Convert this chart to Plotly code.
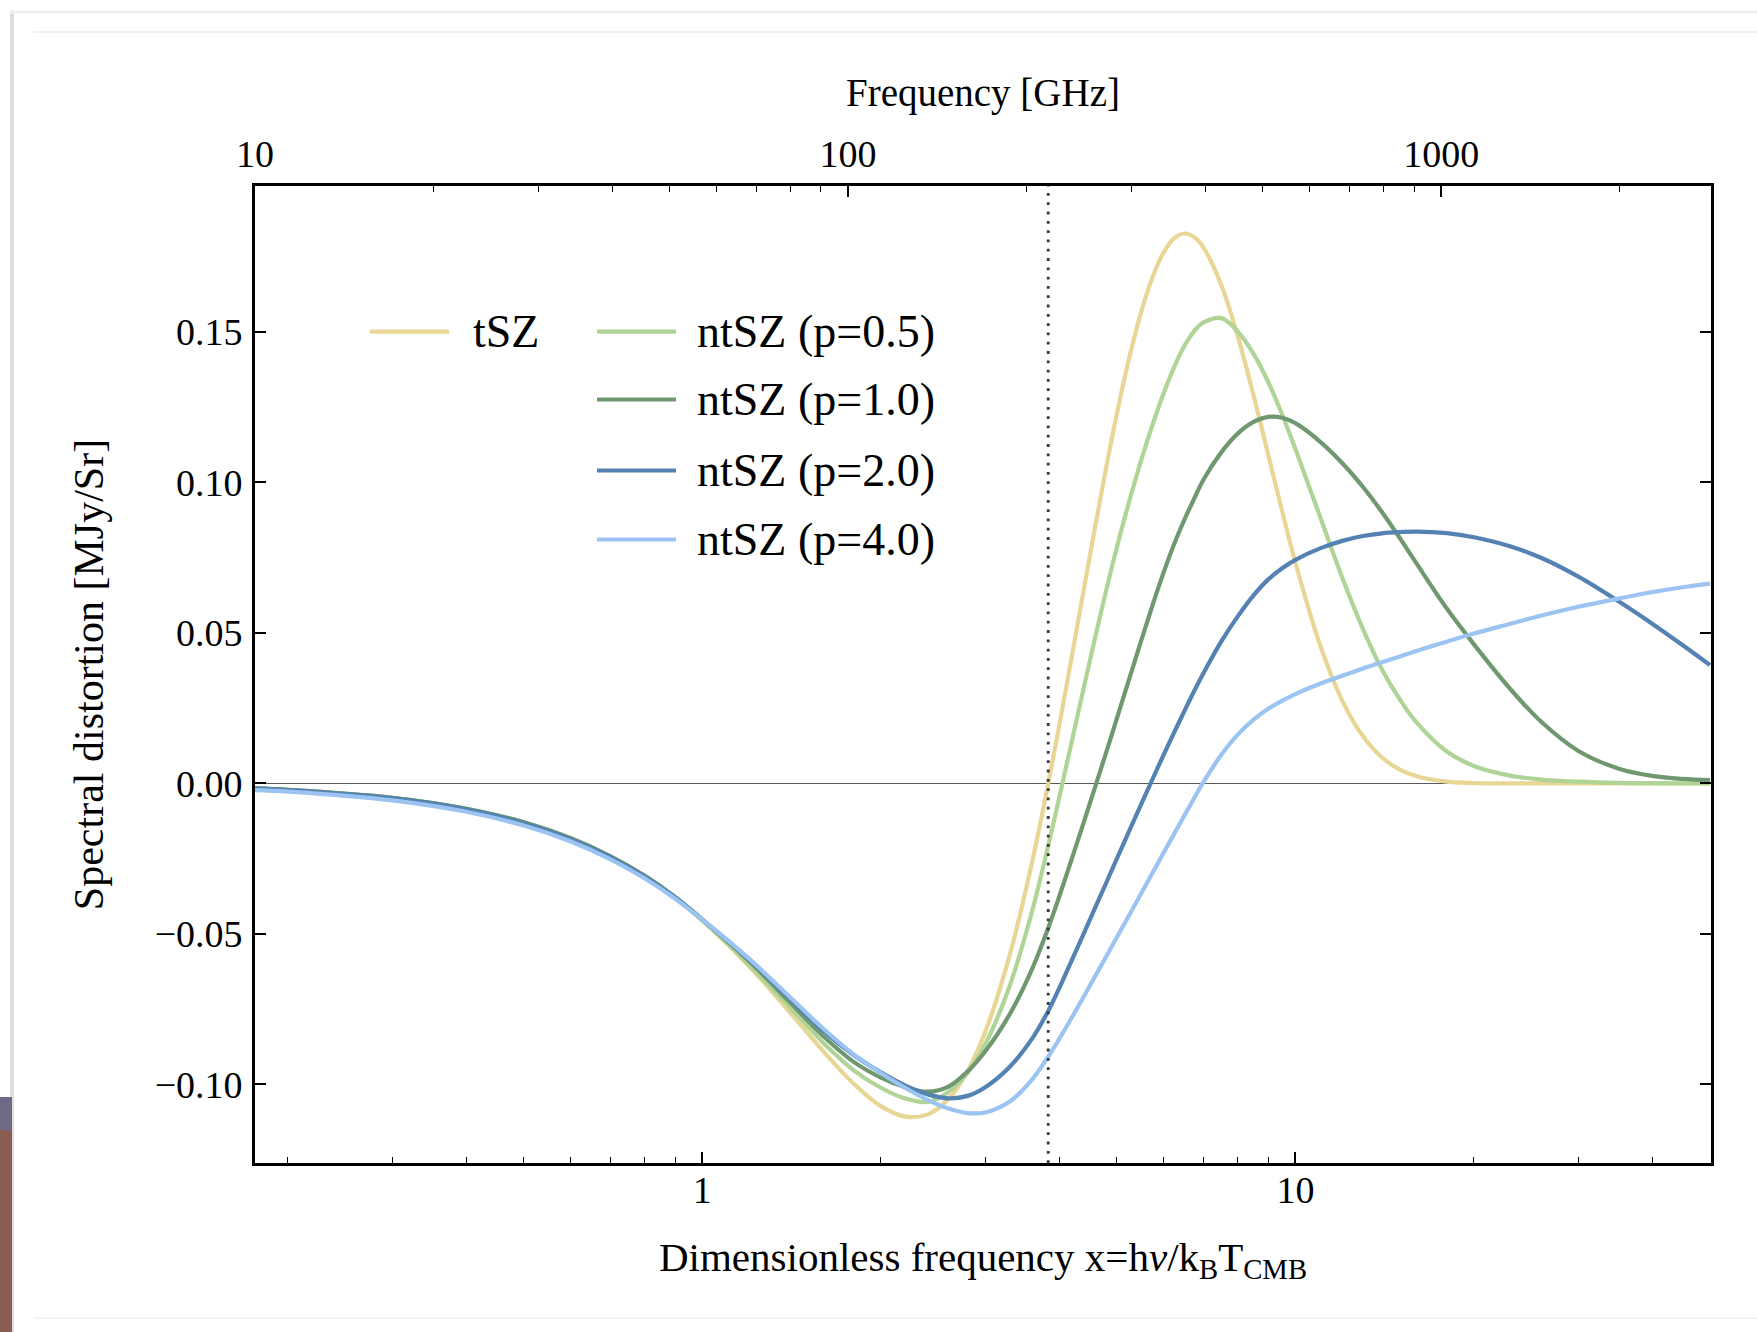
import math
import plotly.graph_objects as go

# ---------------- data ----------------
x_dimless = [0.176, 0.2, 0.3, 0.4, 0.5, 0.6, 0.7, 0.8, 0.9, 1.0,
             1.2, 1.4, 1.6, 1.8, 2.0, 2.2, 2.4, 2.6, 2.8, 3.0,
             3.3, 3.6, 3.83, 4.0, 4.2, 4.4, 4.6, 4.8, 5.0, 5.25,
             5.5, 5.75, 6.0, 6.25, 6.5, 6.75, 7.0, 7.5, 8.0, 8.5,
             9.0, 9.5, 10, 11, 12, 13, 14, 15, 16, 18,
             20, 23, 26, 30, 35, 40, 45, 50]

tsz = [-0.00166, -0.00214, -0.00478, -0.00844, -0.01292, -0.01826, -0.02432, -0.03098, -0.0381, -0.04554,
       -0.06083, -0.07569, -0.08901, -0.09978, -0.1072, -0.1107, -0.10995, -0.10486, -0.0956, -0.0825,
       -0.05688, -0.02584, 0.0, 0.01956, 0.04248, 0.06473, 0.08579, 0.10526, 0.1228, 0.14167,
       0.15695, 0.16854, 0.17654, 0.18117, 0.18272, 0.18153, 0.17803, 0.16559, 0.14837, 0.12892,
       0.10914, 0.09037, 0.07339, 0.04611, 0.02746, 0.01565, 0.00861, 0.00459, 0.00238, 0.0006,
       0.00014, 0.00002, 0.0, 0.0, 0.0, 0.0, 0.0, 0.0]

ntsz_p05 = [-0.00166, -0.00214, -0.00478, -0.00844, -0.0129, -0.0182, -0.0242, -0.0308, -0.0379, -0.0454,
            -0.0603, -0.0741, -0.0862, -0.0953, -0.1011, -0.1047, -0.1058, -0.1025, -0.0962, -0.0866,
            -0.0671, -0.0422, -0.0207, -0.0044, 0.0142, 0.0321, 0.0489, 0.0644, 0.0785, 0.0940,
            0.1077, 0.1195, 0.1298, 0.1385, 0.1454, 0.1503, 0.1532, 0.1546, 0.1501, 0.1427,
            0.1333, 0.1225, 0.1111, 0.0887, 0.0683, 0.0513, 0.0378, 0.0279, 0.0203, 0.0106,
            0.0058, 0.0026, 0.0013, 0.0006, 0.0002, 0.0001, 0.0, 0.0]

ntsz_p10 = [-0.00166, -0.00214, -0.00478, -0.00844, -0.0129, -0.0182, -0.0242, -0.0307, -0.0378, -0.0452,
            -0.0591, -0.0724, -0.0840, -0.0925, -0.0977, -0.1009, -0.1024, -0.1007, -0.0957, -0.0890,
            -0.0766, -0.0615, -0.0480, -0.0374, -0.0249, -0.0127, -0.0009, 0.0105, 0.0216, 0.0350,
            0.0477, 0.0596, 0.0703, 0.0797, 0.0877, 0.0946, 0.1010, 0.1100, 0.1163, 0.1201,
            0.1218, 0.1215, 0.1197, 0.1136, 0.1064, 0.0985, 0.0901, 0.0815, 0.0731, 0.0581,
            0.0462, 0.0315, 0.0204, 0.0108, 0.0050, 0.0025, 0.0015, 0.0011]

ntsz_p20 = [-0.0017, -0.0022, -0.0049, -0.0086, -0.0132, -0.0185, -0.0245, -0.0310, -0.0379, -0.0452,
            -0.0586, -0.0713, -0.0822, -0.0902, -0.0960, -0.1004, -0.1033, -0.1046, -0.1038, -0.1009,
            -0.0941, -0.0847, -0.0756, -0.0679, -0.0586, -0.0497, -0.0411, -0.0329, -0.0250, -0.0156,
            -0.0067, 0.0017, 0.0097, 0.0171, 0.0241, 0.0307, 0.0367, 0.0472, 0.0556, 0.0625,
            0.0678, 0.0715, 0.0743, 0.0781, 0.0806, 0.0822, 0.0831, 0.0835, 0.0837, 0.0832,
            0.0818, 0.0788, 0.0749, 0.0687, 0.0606, 0.0530, 0.0459, 0.0393]

ntsz_p40 = [-0.0022, -0.0027, -0.0056, -0.0094, -0.0140, -0.0193, -0.0252, -0.0316, -0.0383, -0.0452,
            -0.0583, -0.0707, -0.0815, -0.0900, -0.0962, -0.1012, -0.1052, -0.1080, -0.1095, -0.1093,
            -0.1057, -0.0983, -0.0908, -0.0848, -0.0777, -0.0707, -0.0639, -0.0574, -0.0511, -0.0436,
            -0.0364, -0.0295, -0.0229, -0.0166, -0.0106, -0.0049, 0.0005, 0.0095, 0.0163, 0.0212,
            0.0248, 0.0275, 0.0297, 0.0331, 0.0358, 0.0382, 0.0403, 0.0422, 0.0440, 0.0471,
            0.0498, 0.0530, 0.0558, 0.0587, 0.0614, 0.0636, 0.0652, 0.0664]

series_names = ["tSZ", "ntSZ (p=0.5)", "ntSZ (p=1.0)", "ntSZ (p=2.0)", "ntSZ (p=4.0)"]
series_values = [tsz, ntsz_p05, ntsz_p10, ntsz_p20, ntsz_p40]
series_colors = ["#E7D694", "#B0D396", "#6F9870", "#5482B2", "#9BC4F2"]

x_ticks = [1, 10]
x_minor_ticks = [0.2, 0.3, 0.4, 0.5, 0.6, 0.7, 0.8, 0.9, 2, 3, 4, 5, 6, 7, 8, 9, 20, 30, 40]
freq_ticks = [10, 100, 1000]
freq_minor_ticks = [20, 30, 40, 50, 60, 70, 80, 90, 200, 300, 400, 500, 600, 700, 800, 900, 2000]
y_ticks = [-0.10, -0.05, 0.00, 0.05, 0.10, 0.15]

GHZ_PER_X = 56.78          # nu [GHz] = x * 56.78  (T_CMB = 2.7255 K)
X_MIN, X_MAX = 0.1761, 50.2
Y_MIN, Y_MAX = -0.1261, 0.1985
TSZ_NULL_X = 3.83          # dotted vertical line (tSZ null, ~217 GHz)

FONT = "Liberation Serif"

# ---------------- figure ----------------
fig = go.Figure()
for name, vals, col in zip(series_names, series_values, series_colors):
    fig.add_trace(go.Scatter(
        x=x_dimless, y=vals, name=name, mode="lines",
        line=dict(color=col, width=4.2, shape="spline", smoothing=1.0),
        showlegend=False, hoverinfo="skip"))

# invisible trace so the top frequency axis is rendered
fig.add_trace(go.Scatter(x=[X_MIN * GHZ_PER_X, X_MAX * GHZ_PER_X], y=[None, None],
                         xaxis="x2", yaxis="y", mode="lines", showlegend=False,
                         hoverinfo="skip"))

tick_font = dict(family=FONT, size=38, color="black")

fig.update_layout(
    width=1757, height=1332, autosize=False,
    margin=dict(l=255, r=46, t=186, b=169, pad=0),
    paper_bgcolor="white", plot_bgcolor="white",
    font=dict(family=FONT, color="black"),
    showlegend=False,
    xaxis=dict(
        type="log", range=[math.log10(X_MIN), math.log10(X_MAX)],
        tickmode="array", tickvals=x_ticks, ticktext=[str(v) for v in x_ticks],
        ticks="inside", ticklen=11, tickwidth=1.6, tickcolor="black",
        minor=dict(tickmode="array", tickvals=x_minor_ticks, ticks="inside",
                   ticklen=6, tickwidth=1.3, tickcolor="black", showgrid=False),
        showgrid=False, zeroline=False,
        showline=True, linecolor="black", linewidth=2.6, mirror=True,
        tickfont=tick_font, ticklabelstandoff=-8,
        title=dict(text="Dimensionless frequency x=h<i>ν</i>/k<sub>B</sub>T<sub>CMB</sub>",
                   font=dict(family=FONT, size=41, color="black"), standoff=32),
    ),
    xaxis2=dict(
        type="log", overlaying="x", side="top", anchor="y",
        range=[math.log10(X_MIN * GHZ_PER_X), math.log10(X_MAX * GHZ_PER_X)],
        tickmode="array", tickvals=freq_ticks, ticktext=[str(v) for v in freq_ticks],
        ticks="inside", ticklen=11, tickwidth=1.6, tickcolor="black",
        minor=dict(tickmode="array", tickvals=freq_minor_ticks, ticks="inside",
                   ticklen=6, tickwidth=1.3, tickcolor="black", showgrid=False),
        showgrid=False, zeroline=False, showline=True, linecolor="black", linewidth=2.6,
        tickfont=tick_font, ticklabelstandoff=1,
        title=dict(text="Frequency [GHz]", font=dict(family=FONT, size=39, color="black"),
                   standoff=15),
    ),
    yaxis=dict(
        range=[Y_MIN, Y_MAX], tickmode="array", tickvals=y_ticks, tickformat=".2f",
        ticks="inside", ticklen=11, tickwidth=1.6, tickcolor="black",
        showgrid=False, zeroline=True, zerolinecolor="#5a5a5a", zerolinewidth=1.4,
        showline=True, linecolor="black", linewidth=2.6, mirror="ticks",
        tickfont=tick_font, ticklabelstandoff=2,
        title=dict(text="Spectral distortion [MJy/Sr]",
                   font=dict(family=FONT, size=42, color="black"), standoff=38),
    ),
)

# dotted vertical line at the tSZ null
fig.add_shape(type="line", xref="x", yref="paper", x0=TSZ_NULL_X, x1=TSZ_NULL_X, y0=0, y1=1,
              line=dict(color="#3c3c3c", width=2.9, dash="2.8px,6.5px"))

# ---------------- manual two-column legend ----------------
def px2paper_x(px):
    return (px - 255.0) / 1456.0

def px2paper_y(py):
    return (1163.0 - py) / 977.0

legend_rows_px = [331.7, 399.5, 470.5, 539.5]
legend_pos = [(370, 449, 471, legend_rows_px[0])] + \
             [(597, 676, 695, r) for r in legend_rows_px]
for (lx0, lx1, tx, ly), name, col in zip(legend_pos, series_names, series_colors):
    fig.add_shape(type="line", xref="paper", yref="paper",
                  x0=px2paper_x(lx0), x1=px2paper_x(lx1),
                  y0=px2paper_y(ly), y1=px2paper_y(ly),
                  line=dict(color=col, width=4.2))
    fig.add_annotation(xref="paper", yref="paper", x=px2paper_x(tx), y=px2paper_y(ly),
                       text=name, showarrow=False, xanchor="left", yanchor="middle",
                       font=dict(family=FONT, size=46, color="black"))

# ---------------- page/card decorations from the screenshot ----------------
fig.add_shape(type="rect", xref="paper", yref="paper",
              x0=px2paper_x(10), x1=px2paper_x(14), y0=px2paper_y(1332), y1=px2paper_y(10),
              line=dict(width=0), fillcolor="#dedede", layer="below")
fig.add_shape(type="rect", xref="paper", yref="paper",
              x0=px2paper_x(0), x1=px2paper_x(12), y0=px2paper_y(1332), y1=px2paper_y(1130),
              line=dict(width=0), fillcolor="#8a5c52", layer="below")
fig.add_shape(type="rect", xref="paper", yref="paper",
              x0=px2paper_x(0), x1=px2paper_x(12), y0=px2paper_y(1130), y1=px2paper_y(1097),
              line=dict(width=0), fillcolor="#6f6a86", layer="below")
fig.add_shape(type="line", xref="paper", yref="paper",
              x0=px2paper_x(10), x1=px2paper_x(1757), y0=px2paper_y(12), y1=px2paper_y(12),
              line=dict(color="#efefef", width=3), layer="below")
fig.add_shape(type="line", xref="paper", yref="paper",
              x0=px2paper_x(34), x1=px2paper_x(1757), y0=px2paper_y(32), y1=px2paper_y(32),
              line=dict(color="#eeeeee", width=1.5), layer="below")
fig.add_shape(type="line", xref="paper", yref="paper",
              x0=px2paper_x(34), x1=px2paper_x(1757), y0=px2paper_y(1318), y1=px2paper_y(1318),
              line=dict(color="#eeeeee", width=1.5), layer="below")

fig.write_html("out.html")
